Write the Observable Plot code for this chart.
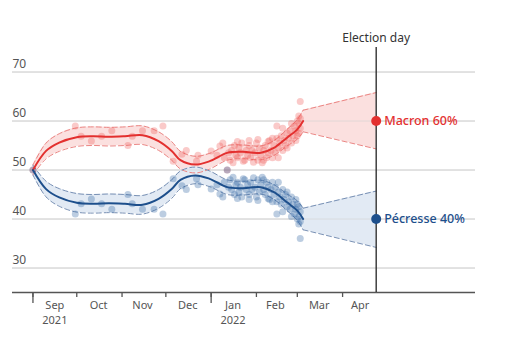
<!DOCTYPE html>
<html>
<head>
<meta charset="utf-8">
<script src="https://cdn.jsdelivr.net/npm/d3@7"></script>
<script src="https://cdn.jsdelivr.net/npm/@observablehq/plot@0.6"></script>
<style>
  html, body { margin: 0; padding: 0; background: #fff; }
  #chart svg { display: block; font-family: "Noto Sans", sans-serif; }
</style>
</head>
<body>
<div id="chart"></div>
<script>
// ---- Data ----
const yTicks = [30, 40, 50, 60, 70];
const monthStarts = ["2021-09-01","2021-10-01","2021-11-01","2021-12-01","2022-01-01","2022-02-01","2022-03-01","2022-04-01"];
const yearStarts = ["2021-09-01","2022-01-01"];
const monthMids = ["2021-09-16","2021-10-16","2021-11-15","2021-12-16","2022-01-16","2022-02-14","2022-03-16","2022-04-13"];
const monthLabels = ["Sep","Oct","Nov","Dec","Jan","Feb","Mar","Apr"];
const yearMids = ["2021-09-16","2022-01-16"];
const yearLabels = ["2021","2022"];

const electionDay = "2022-04-24";
const candidates = ["Macron", "Pécresse"];
const electionValues = [60, 40];

const trendDates = ["2021-09-01","2021-09-10","2021-09-19","2021-10-01","2021-10-12","2021-10-23","2021-11-03","2021-11-15","2021-11-26","2021-12-05","2021-12-11","2021-12-21","2021-12-31","2022-01-12","2022-01-23","2022-02-04","2022-02-13","2022-02-22","2022-03-01","2022-03-05"];
const macronMid = [50, 53.9, 55.6, 56.7, 56.9, 56.8, 56.9, 57.1, 55.9, 53.9, 52.0, 51.1, 51.8, 53.5, 53.7, 53.5, 54.5, 56.6, 58.3, 60];
const macronHi  = [51, 55.5, 57.4, 58.6, 58.8, 58.7, 58.8, 59.0, 57.8, 55.8, 53.8, 52.8, 53.4, 55.0, 55.1, 54.9, 56.0, 58.3, 60.3, 62.2];
const macronLo  = [49, 52.3, 53.8, 54.8, 55.0, 54.9, 55.0, 55.2, 54.0, 52.0, 50.2, 49.4, 50.2, 52.0, 52.3, 52.1, 53.0, 54.9, 56.3, 57.8];
const pecresseMid = [50, 46.1, 44.4, 43.3, 43.1, 43.2, 43.1, 42.9, 44.1, 46.1, 48.0, 48.9, 48.2, 46.5, 46.3, 46.5, 45.5, 43.4, 41.7, 40];
const pecresseHi  = [51, 47.7, 46.2, 45.2, 45.0, 45.1, 45.0, 44.8, 46.0, 48.0, 49.8, 50.6, 49.8, 48.0, 47.7, 47.9, 47.0, 45.1, 43.7, 42.2];
const pecresseLo  = [49, 44.5, 42.6, 41.4, 41.2, 41.3, 41.2, 41.0, 42.2, 44.2, 46.2, 47.2, 46.6, 45.0, 44.9, 45.1, 44.0, 41.7, 39.7, 37.8];

const coneDates = ["2022-03-05", "2022-04-24"];
const macronConeHi = [62.2, 65.8];
const macronConeLo = [57.8, 54.3];
const pecresseConeHi = [42.2, 45.7];
const pecresseConeLo = [37.8, 34.2];

const pollDates = ["2021-09-01","2021-09-30","2021-10-04","2021-10-11","2021-10-18","2021-10-25","2021-11-05","2021-11-08","2021-11-15","2021-11-23","2021-11-29","2021-12-06","2021-12-12","2021-12-15","2021-12-22","2021-12-23","2022-01-01","2022-01-07","2022-01-12",
"2022-01-05","2022-01-10","2022-01-13","2022-01-14","2022-01-15","2022-01-17","2022-01-18","2022-01-19","2022-01-20","2022-01-21","2022-01-22","2022-01-24","2022-01-25","2022-01-26","2022-01-27","2022-01-28","2022-01-29","2022-01-31",
"2022-02-01","2022-02-02","2022-02-03","2022-02-04","2022-02-05","2022-02-06","2022-02-07","2022-02-08","2022-02-09","2022-02-10","2022-02-11","2022-02-12","2022-02-13","2022-02-14","2022-02-15","2022-02-15","2022-02-16","2022-02-17","2022-02-18","2022-02-19","2022-02-20","2022-02-21","2022-02-22","2022-02-23","2022-02-24","2022-02-25","2022-02-26","2022-02-27","2022-02-28",
"2022-03-01","2022-03-01","2022-03-02","2022-03-02","2022-03-03","2022-03-03","2022-03-03",
"2022-01-09","2022-01-16","2022-01-19","2022-01-23","2022-01-27","2022-01-30","2022-02-02","2022-02-06","2022-02-09","2022-02-12","2022-02-16","2022-02-19","2022-02-22","2022-02-25","2022-02-28","2022-03-02"];
const macronPolls = [50,59,56.9,55.9,56.9,58,55,56.9,58,58,59,51.8,53.2,54,51.8,53,53.9,54.9,50,
53.0,52.5,53.5,52.0,54.0,55.0,53.0,52.5,54.5,53.5,55.5,52.0,54.0,53.0,55.0,52.5,54.0,53.5,
55.5,52.0,54.5,53.0,51.5,54.0,55.0,52.5,53.5,56.0,54.0,52.5,55.0,53.5,59.0,56.5,54.5,55.5,57.0,54.0,56.0,55.0,57.5,56.5,58.0,55.5,57.0,59.0,58.0,
60.0,57.0,59.5,61.0,58.5,64.0,60.5,
55.5,51.5,55.8,51.8,56.0,51.6,56.2,52.0,55.8,56.5,52.5,58.5,54.5,59.5,56.0,57.5];
const pecressePolls = [50,41,43.1,44.1,43.1,42,45,43.1,42,42,41,48.2,46.8,46,48.2,47,46.1,45.1,50,
47.0,47.5,46.5,48.0,46.0,45.0,47.0,47.5,45.5,46.5,44.5,48.0,46.0,47.0,45.0,47.5,46.0,46.5,
44.5,48.0,45.5,47.0,48.5,46.0,45.0,47.5,46.5,44.0,46.0,47.5,45.0,46.5,41.0,43.5,45.5,44.5,43.0,46.0,44.0,45.0,42.5,43.5,42.0,44.5,43.0,41.0,42.0,
40.0,43.0,40.5,39.0,41.5,36.0,39.5,
44.5,48.5,44.2,48.2,44.0,48.4,43.8,48.0,44.2,43.5,47.5,41.5,45.5,40.5,44.0,42.5];

// ---- Styles ----
const RED = "#e3302f", RED_DOT = "#f05a57", RED_FILL = "#fbe0df", RED_DASH = "#eb8583";
const BLUE = "#1d4f8c", BLUE_DOT = "#2f64a3", BLUE_FILL = "#e2eaf4", BLUE_DASH = "#7890b4";
const GREY = "#555";

// ---- Tables ----
const D = s => new Date(s);
const trend = trendDates.map((d, i) => ({date: D(d), mMid: macronMid[i], mHi: macronHi[i], mLo: macronLo[i], pMid: pecresseMid[i], pHi: pecresseHi[i], pLo: pecresseLo[i]}));
const cone = coneDates.map((d, i) => ({date: D(d), mHi: macronConeHi[i], mLo: macronConeLo[i], pHi: pecresseConeHi[i], pLo: pecresseConeLo[i]}));
const polls = pollDates.map((d, i) => ({date: D(d), m: macronPolls[i], p: pecressePolls[i]}));
const finals = candidates.map((c, i) => ({name: c, value: electionValues[i], date: D(electionDay), color: i === 0 ? RED : BLUE}));

const dash = "5,3";
const curve = "catmull-rom";

const chart = Plot.plot({
  width: 518,
  height: 361,
  marginLeft: 12,
  marginRight: 43,
  marginTop: 47,
  marginBottom: 69,
  x: {type: "utc", domain: [D("2021-08-18"), D("2022-07-01")], axis: null},
  y: {domain: [25, 75], axis: null},
  marks: [
    Plot.ruleY(yTicks, {stroke: "#d4d4d4", strokeWidth: 1}),
    Plot.text(yTicks, {y: d => d, text: d => String(d), frameAnchor: "left", textAnchor: "start", dy: -8, fontSize: 12, fill: GREY}),
    // bands
    Plot.areaY(trend, {x: "date", y1: "mLo", y2: "mHi", fill: RED_FILL, curve}),
    Plot.areaY(trend, {x: "date", y1: "pLo", y2: "pHi", fill: BLUE_FILL, curve}),
    Plot.areaY(cone, {x: "date", y1: "mLo", y2: "mHi", fill: RED_FILL}),
    Plot.areaY(cone, {x: "date", y1: "pLo", y2: "pHi", fill: BLUE_FILL}),
    Plot.ruleY(yTicks, {stroke: "#d4d4d4", strokeWidth: 1, strokeOpacity: 0.6}),
    // dashed edges
    Plot.line(trend, {x: "date", y: "mHi", stroke: RED_DASH, strokeDasharray: dash, strokeWidth: 1, curve}),
    Plot.line(trend, {x: "date", y: "mLo", stroke: RED_DASH, strokeDasharray: dash, strokeWidth: 1, curve}),
    Plot.line(trend, {x: "date", y: "pHi", stroke: BLUE_DASH, strokeDasharray: dash, strokeWidth: 1, curve}),
    Plot.line(trend, {x: "date", y: "pLo", stroke: BLUE_DASH, strokeDasharray: dash, strokeWidth: 1, curve}),
    Plot.line(cone, {x: "date", y: "mHi", stroke: RED_DASH, strokeDasharray: dash, strokeWidth: 1}),
    Plot.line(cone, {x: "date", y: "mLo", stroke: RED_DASH, strokeDasharray: dash, strokeWidth: 1}),
    Plot.line(cone, {x: "date", y: "pHi", stroke: BLUE_DASH, strokeDasharray: dash, strokeWidth: 1}),
    Plot.line(cone, {x: "date", y: "pLo", stroke: BLUE_DASH, strokeDasharray: dash, strokeWidth: 1}),
    // polls
    Plot.dot(polls, {x: "date", y: "m", r: 3.5, fill: RED_DOT, fillOpacity: 0.32, stroke: "none"}),
    Plot.dot(polls, {x: "date", y: "p", r: 3.5, fill: BLUE_DOT, fillOpacity: 0.32, stroke: "none"}),
    // trend lines
    Plot.line(trend, {x: "date", y: "mMid", stroke: RED, strokeWidth: 2, curve}),
    Plot.line(trend, {x: "date", y: "pMid", stroke: BLUE, strokeWidth: 2, curve}),
    // x axis
    Plot.ruleY([25], {stroke: GREY, strokeWidth: 1.5}),
    Plot.axisX({ticks: monthStarts.map(D), tickSize: 5, tickFormat: () => "", stroke: GREY, strokeWidth: 1.3, label: null}),
    Plot.axisX({ticks: yearStarts.map(D), tickSize: 11, tickFormat: () => "", stroke: GREY, strokeWidth: 1.3, label: null}),
    Plot.text(monthLabels, {x: monthMids.map(D), text: monthLabels, frameAnchor: "bottom", dy: 16, fontSize: 11, fill: GREY}),
    Plot.text(yearLabels, {x: yearMids.map(D), text: yearLabels, frameAnchor: "bottom", dy: 31, fontSize: 11, fill: GREY}),
    // election day
    Plot.ruleX([D(electionDay)], {y1: 75, y2: 25, stroke: "#222", strokeWidth: 1.3}),
    Plot.text(["Election day"], {x: [D(electionDay)], y: [75], dy: -9, fontSize: 12, fill: "#333"}),
    Plot.dot(finals, {x: "date", y: "value", r: 5, fill: "color", stroke: "none"}),
    Plot.text(finals, {x: "date", y: "value", text: d => `${d.name} ${d.value}%`, textAnchor: "start", dx: 8, fontSize: 12.5, fontWeight: 500, fill: "color"})
  ]
});
document.getElementById("chart").appendChild(chart);
</script>
</body>
</html>
